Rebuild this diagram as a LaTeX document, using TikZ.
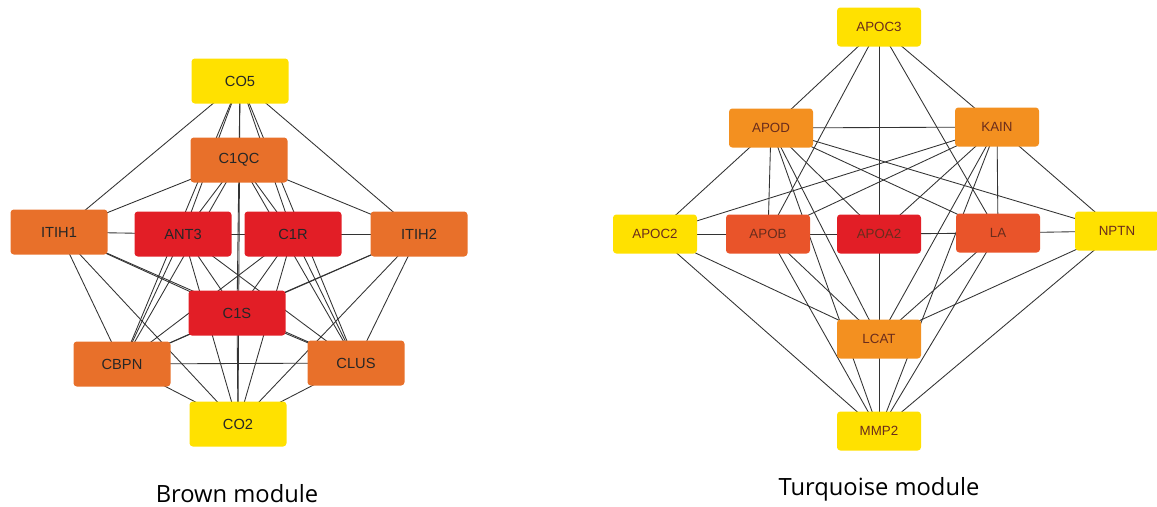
\documentclass[tikz,border=0pt]{standalone}
\usepackage{fontspec}
\setmainfont{Liberation Sans}
\newfontfamily\capfont{Open Sans}
\pgfdeclarelayer{background}
\pgfsetlayers{background,main}
\definecolor{hubyellow}{HTML}{FFE100}
\definecolor{hubbrown}{HTML}{E8702A}
\definecolor{hubred}{HTML}{E21E26}
\definecolor{hubamber}{HTML}{F39020}
\definecolor{hubrust}{HTML}{E9542A}
\definecolor{edgegray}{HTML}{333333}
\definecolor{tqtext}{HTML}{6A2C1C}
\tikzset{
  gene/.style={rounded corners=2.5pt, inner sep=0pt, font=\fontsize{11}{12}\selectfont, text=black!85},
  bgene/.style={gene, minimum width=72.75pt, minimum height=33.75pt},
  tgene/.style={gene, minimum width=63pt, minimum height=29.25pt, font=\fontsize{10}{11}\selectfont, text=tqtext},
  link/.style={draw=edgegray, line width=0.65pt},
  caption/.style={inner sep=0pt, font=\capfont\fontsize{17.8}{19}\selectfont, text=black}
}
\begin{document}
\begin{tikzpicture}[x=0.75pt, y=-0.75pt]
  \useasboundingbox (0,0) rectangle (1157,507);
  % brown module
  \node[bgene, fill=hubyellow] (CO5) at (240,81) {CO5};
  \node[bgene, fill=hubbrown] (C1QC) at (239,160) {C1QC};
  \node[bgene, fill=hubbrown] (ITIH1) at (59,232) {ITIH1};
  \node[bgene, fill=hubred] (ANT3) at (183,234) {ANT3};
  \node[bgene, fill=hubred] (C1R) at (293,234) {C1R};
  \node[bgene, fill=hubbrown] (ITIH2) at (419,234) {ITIH2};
  \node[bgene, fill=hubred] (C1S) at (237,313) {C1S};
  \node[bgene, fill=hubbrown] (CBPN) at (122,364) {CBPN};
  \node[bgene, fill=hubbrown] (CLUS) at (356,363) {CLUS};
  \node[bgene, fill=hubyellow] (CO2) at (238,424) {CO2};
  % turquoise module
  \node[tgene, fill=hubyellow] (APOC3) at (879,27) {APOC3};
  \node[tgene, fill=hubamber] (APOD) at (771,128) {APOD};
  \node[tgene, fill=hubamber] (KAIN) at (997,127) {KAIN};
  \node[tgene, fill=hubyellow] (APOC2) at (655,234) {APOC2};
  \node[tgene, fill=hubrust] (APOB) at (768,234) {APOB};
  \node[tgene, fill=hubred] (APOA2) at (879,234) {APOA2};
  \node[tgene, fill=hubrust] (LA) at (998,233) {LA};
  \node[tgene, fill=hubyellow] (NPTN) at (1117,231) {NPTN};
  \node[tgene, fill=hubamber] (LCAT) at (879,339) {LCAT};
  \node[tgene, fill=hubyellow] (MMP2) at (879,431) {MMP2};
  % edges run behind the boxes
  \begin{pgfonlayer}{background}
  \foreach \a/\b in {CO5/ITIH1, CO5/ITIH2, CO5/C1QC, CO5/ANT3, CO5/C1R, CO5/CBPN, CO5/CLUS, CO5/CO2,
      C1QC/ITIH1, C1QC/ITIH2, C1QC/ANT3, C1QC/C1R, C1QC/C1S, C1QC/CBPN, C1QC/CLUS,
      ITIH1/ANT3, ITIH1/C1S, ITIH1/CBPN, ITIH1/CLUS, ITIH1/CO2,
      ITIH2/C1R, ITIH2/C1S, ITIH2/CBPN, ITIH2/CLUS, ITIH2/CO2,
      ANT3/C1R, ANT3/C1S, ANT3/CBPN, ANT3/CLUS, ANT3/CO2,
      C1R/C1S, C1R/CBPN, C1R/CLUS, C1R/CO2,
      C1S/CBPN, C1S/CLUS, C1S/CO2, CBPN/CLUS, CBPN/CO2, CLUS/CO2,
      APOC3/APOD, APOC3/KAIN, APOC3/APOB, APOC3/LA, APOC3/MMP2,
      APOD/KAIN, APOD/APOB, APOD/APOC2, APOD/APOA2, APOD/LA, APOD/NPTN, APOD/LCAT, APOD/MMP2,
      KAIN/APOC2, KAIN/APOB, KAIN/APOA2, KAIN/LA, KAIN/NPTN, KAIN/LCAT, KAIN/MMP2,
      APOC2/APOB, APOC2/LCAT, APOC2/MMP2,
      APOB/APOA2, APOB/LCAT, APOB/MMP2,
      APOA2/LA, LA/NPTN, LA/LCAT, LA/MMP2,
      NPTN/LCAT, NPTN/MMP2}
    \draw[link] (\a.center) -- (\b.center);
  \end{pgfonlayer}
  % captions
  \node[caption] (brownlbl) at (237,494) {Brown module};
  \node[caption] (turqlbl) at (879,489) {Turquoise module};
\end{tikzpicture}
\end{document}
